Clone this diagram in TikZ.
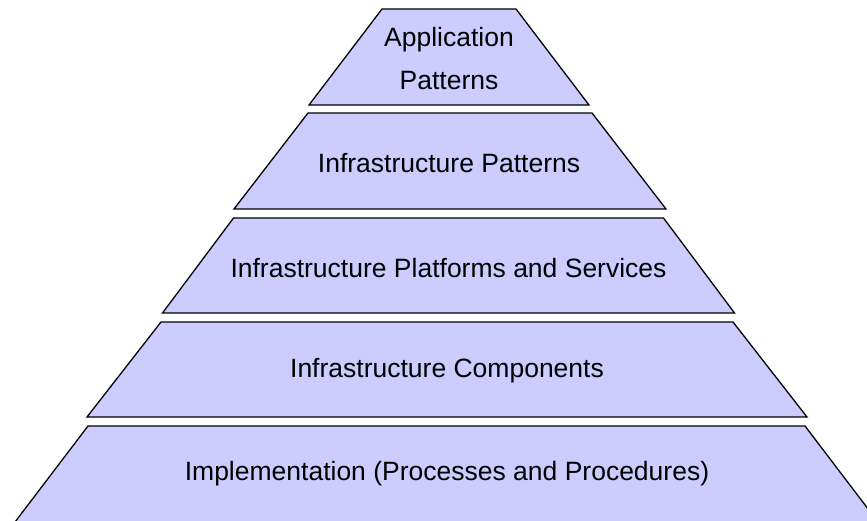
\documentclass[tikz,border=0pt]{standalone}
\usepackage{fontspec}
\setmainfont{Liberation Sans}
\definecolor{layerfill}{HTML}{CCCCFF}
\tikzset{
  layer/.style={draw=black, line width=1.3pt, fill=layerfill, line join=miter},
  lbl/.style={font=\fontsize{26.5}{43}\selectfont, align=center, text=black, inner sep=0pt}
}
\begin{document}
\begin{tikzpicture}[x=1pt, y=-1pt]
\useasboundingbox (0,0) rectangle (867,520);
\clip (0,0) rectangle (867,520);
% layers
\draw[layer] (382,9) -- (516,9) -- (589,105) -- (309,105) -- cycle;
\draw[layer] (308,113) -- (592,113) -- (666,209) -- (234,209) -- cycle;
\draw[layer] (233.5,218) -- (663.5,218) -- (734.5,313) -- (162.5,313) -- cycle;
\draw[layer] (161,322) -- (733,322) -- (807,417) -- (87,417) -- cycle;
\draw[layer] (88,426) -- (805,426) -- (878,522) -- (15,522) -- cycle;
% labels
\node[lbl] (app) at (449,59) {Application\\Patterns};
\node[lbl] (ipat) at (449,163) {Infrastructure Patterns};
\node[lbl] (iplat) at (448.5,268) {Infrastructure Platforms and Services};
\node[lbl] (icomp) at (447,371) {Infrastructure Components};
\node[lbl] (impl) at (447,474) {Implementation (Processes and Procedures)};
\end{tikzpicture}
\end{document}
